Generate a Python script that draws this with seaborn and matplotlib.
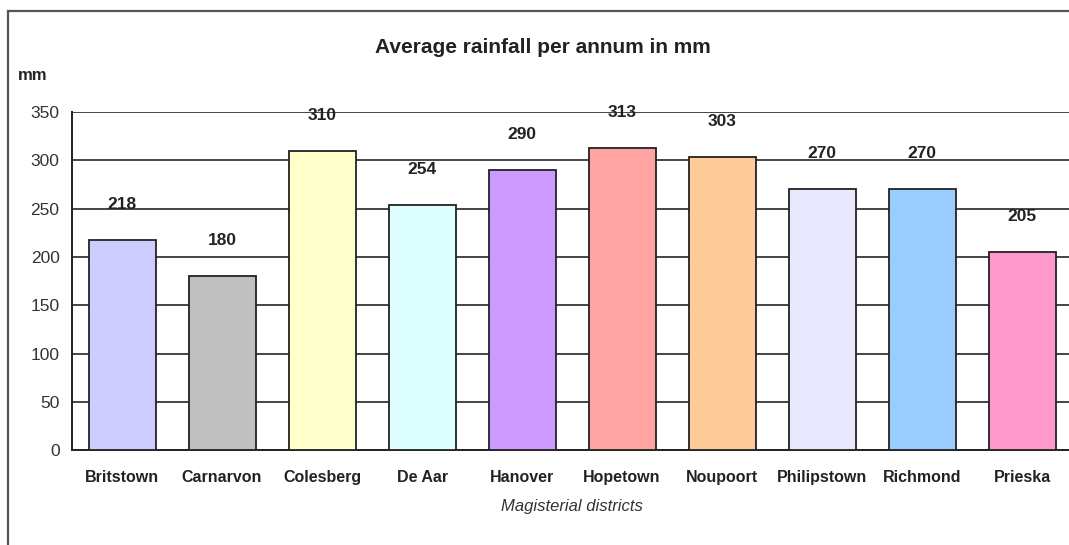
import matplotlib
matplotlib.use("Agg")
import matplotlib.pyplot as plt
import pandas as pd
import seaborn as sns
from matplotlib.patches import Rectangle

# ---------------------------------------------------------------------------
# Data
# ---------------------------------------------------------------------------
districts = ["Britstown", "Carnarvon", "Colesberg", "De Aar", "Hanover",
             "Hopetown", "Noupoort", "Philipstown", "Richmond", "Prieska"]
rainfall = [218, 180, 310, 254, 290, 313, 303, 270, 270, 205]
bar_colors = ["#CCCCFF", "#C0C0C0", "#FFFFCC", "#DDFFFF", "#CC99FF",
              "#FFA3A3", "#FFCC99", "#E8E8FF", "#99CCFF", "#FF99CC"]
y_ticks = [0, 50, 100, 150, 200, 250, 300, 350]

df = pd.DataFrame({"district": districts, "rainfall": rainfall})

sns.set_style("white")
plt.rcParams["font.family"] = ["Liberation Sans", "DejaVu Sans"]

fig = plt.figure(figsize=(10.69, 5.45), dpi=100)
ax = fig.add_axes([0.0674, 0.174, 0.9355, 0.6205])

sns.barplot(data=df, x="district", y="rainfall", hue="district",
            palette=dict(zip(districts, bar_colors)), legend=False,
            saturation=1, width=0.67, edgecolor="#222222", linewidth=1.3,
            ax=ax, zorder=3)

ax.set_ylim(0, 350)
ax.set_xlim(-0.5, len(districts) - 0.5)
ax.set_yticks(y_ticks)
ax.yaxis.grid(True, color="#444444", linewidth=1.4, zorder=0)
ax.set_axisbelow(True)

for s in ["top", "right"]:
    ax.spines[s].set_visible(False)
for s in ["left", "bottom"]:
    ax.spines[s].set_color("#222222")
    ax.spines[s].set_linewidth(1.4)

# category ticks sit between bars
ax.set_xticks([i + 0.5 for i in range(len(districts))], minor=True)
ax.tick_params(axis="x", which="major", length=0, pad=14)
ax.tick_params(axis="x", which="minor", length=5, width=1.3,
               color="#222222", direction="out")
ax.tick_params(axis="y", length=6, width=1.3, color="#222222",
               direction="out", labelsize=12.5, labelcolor="#333333", pad=3)

for lbl in ax.get_xticklabels():
    lbl.set_family(["Liberation Sans Narrow", "Liberation Sans", "DejaVu Sans"])
    lbl.set_fontweight("bold")
    lbl.set_fontsize(11.5)
    lbl.set_color("#222222")

ax.set_xlabel("Magisterial districts", fontsize=12, style="italic",
              color="#333333", labelpad=10)
ax.set_ylabel("")

# value labels floating above bars
for i, v in enumerate(rainfall):
    ax.annotate(str(v), (i, v), xytext=(0, 25.5), textcoords="offset points",
                ha="center", va="center", fontsize=12.5, fontweight="bold",
                color="#222222", zorder=4)

fig.text(0.508, 0.913, "Average rainfall per annum in mm", ha="center",
         va="center", fontsize=15, fontweight="bold", color="#222222")
fig.text(0.017, 0.862, "mm", ha="left", va="center", fontsize=12,
         fontweight="bold", color="#222222")

# outer chart frame
fig.patches.append(Rectangle((8 / 1069, -0.1), 1.2, 1.1 - 11 / 545,
                             transform=fig.transFigure, fill=False,
                             edgecolor="#555555", linewidth=1.6))

fig.savefig("out.png", dpi=100)
